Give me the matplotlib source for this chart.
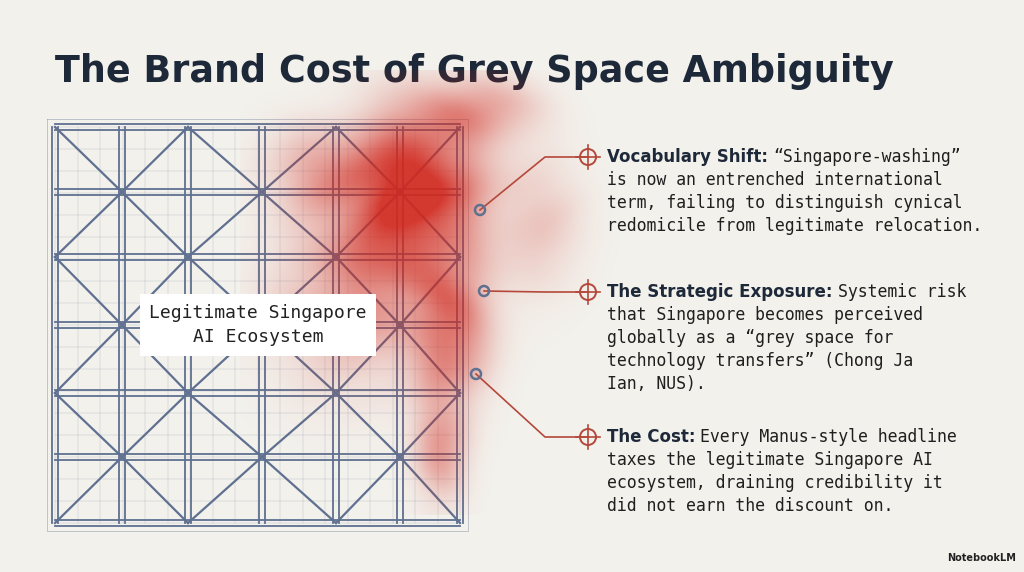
import numpy as np
import matplotlib.pyplot as plt
from matplotlib.patches import Circle

W, H = 1024, 572
BG = "#f3f1ec"
NAVY = "#1d2838"
STEEL = "#5f7090"
RUST = "#b4483a"

title = "The Brand Cost of Grey Space Ambiguity"
label_text = "Legitimate Singapore\nAI Ecosystem"
headings = ["Vocabulary Shift:", "The Strategic Exposure:", "The Cost:"]
bodies = [
    ["\u201cSingapore-washing\u201d", "is now an entrenched international",
     "term, failing to distinguish cynical", "redomicile from legitimate relocation."],
    ["Systemic risk", "that Singapore becomes perceived",
     "globally as a \u201cgrey space for", "technology transfers\u201d (Chong Ja", "Ian, NUS)."],
    ["Every Manus-style headline", "taxes the legitimate Singapore AI",
     "ecosystem, draining credibility it", "did not earn the discount on."],
]
col_x = [55, 122, 188, 262, 336, 400, 460]
row_y = [127, 192, 257, 325, 393, 457, 523]
anchor_pts = [(480, 210), (484, 291), (476, 374)]
marker_y = [157, 292, 437]

fig = plt.figure(figsize=(W / 100, H / 100), dpi=100, facecolor=BG)
ax = fig.add_axes([0, 0, 1, 1])
ax.set_xlim(0, W)
ax.set_ylim(H, 0)
ax.axis("off")
ax.set_facecolor(BG)

ax.text(55, 72, title, fontsize=26.3, fontweight="bold", color=NAVY,
        va="center", ha="left", family="DejaVu Sans")

# lattice
x0, x1, y0, y1 = col_x[0], col_x[-1], row_y[0], row_y[-1]
for x in col_x:
    for dx in (-3, 3):
        ax.plot([x + dx, x + dx], [y0, y1], color=STEEL, lw=1.3, zorder=2)
for y in row_y:
    for dy in (-3, 3):
        ax.plot([x0, x1], [y + dy, y + dy], color=STEEL, lw=1.3, zorder=2)
for i in range(len(col_x) - 1):
    for j in range(len(row_y) - 1):
        xa, xb, ya, yb = col_x[i], col_x[i + 1], row_y[j], row_y[j + 1]
        if (i + j) % 2 == 0:
            ax.plot([xa, xb], [ya, yb], color=STEEL, lw=1.6, zorder=2)
        else:
            ax.plot([xa, xb], [yb, ya], color=STEEL, lw=1.6, zorder=2)
for k in np.linspace(x0, x1, 19):
    ax.plot([k, k], [y0, y1], color=STEEL, lw=0.3, alpha=0.4, zorder=1)
for k in np.linspace(y0, y1, 19):
    ax.plot([x0, x1], [k, k], color=STEEL, lw=0.3, alpha=0.4, zorder=1)
ax.plot([x0 - 8, x1 + 8, x1 + 8, x0 - 8, x0 - 8],
        [y0 - 8, y0 - 8, y1 + 8, y1 + 8, y0 - 8], color=STEEL, lw=0.5, alpha=0.5)

# red ink blot (smooth field)
gx, gy = np.meshgrid(np.arange(240, 630), np.arange(70, 515))
def g(cx, cy, sx, sy, a):
    return a * np.exp(-(((gx - cx) / sx) ** 2 + ((gy - cy) / sy) ** 2))
field = (g(420, 180, 55, 70, 1.0) + g(400, 250, 70, 90, 0.55) + g(450, 330, 35, 60, 0.7)
         + g(440, 440, 25, 55, 0.5) + g(320, 170, 50, 40, 0.4) + g(480, 110, 50, 30, 0.5)
         + g(540, 220, 40, 60, 0.25) + g(330, 300, 60, 80, 0.3))
tex = 0.85 + 0.15 * np.sin(gx / 23.0 + np.sin(gy / 31.0) * 2) * np.cos(gy / 27.0 - np.sin(gx / 37.0))
alpha = np.clip(field * tex, 0, 0.92)
img = np.zeros(gx.shape + (4,))
img[..., 0], img[..., 1], img[..., 2] = 0.82, 0.16, 0.12
img[..., 3] = alpha
ax.imshow(img, extent=[240, 630, 515, 70], zorder=3, interpolation="bilinear")

ax.text(258, 325, label_text, fontsize=13, family="DejaVu Sans Mono", color="#222",
        ha="center", va="center", linespacing=1.5, zorder=5,
        bbox=dict(boxstyle="square,pad=0.5", fc="white", ec="none"))

# callouts
for (ax_, ay_), my in zip(anchor_pts, marker_y):
    ax.plot([ax_, 545, 588], [ay_, my, my], color=RUST, lw=1.2, zorder=4)
    ax.add_patch(Circle((ax_, ay_), 5, fc="none", ec=STEEL, lw=1.8, zorder=5))
    ax.add_patch(Circle((588, my), 8, fc="none", ec=RUST, lw=1.4, zorder=5))
    ax.plot([576, 600], [my, my], color=RUST, lw=1.2, zorder=5)
    ax.plot([588, 588], [my - 12, my + 12], color=RUST, lw=1.2, zorder=5)

fig.canvas.draw()
r = fig.canvas.get_renderer()
for head, body, my in zip(headings, bodies, marker_y):
    t = ax.text(607, my, head, fontsize=12, fontweight="bold", color=NAVY,
                family="DejaVu Sans", va="center", ha="left")
    bb = t.get_window_extent(r)
    xr = ax.transData.inverted().transform((bb.x1, 0))[0] + 5
    for k, line in enumerate(body):
        ax.text(xr if k == 0 else 607, my + k * 23, line, fontsize=11.9,
                family="DejaVu Sans Mono", color="#1f1f1f", va="center", ha="left")

ax.text(1016, 558, "NotebookLM", fontsize=7, fontweight="bold", color="#222",
        ha="right", va="center")

fig.savefig("out.png", dpi=100, facecolor=BG)
